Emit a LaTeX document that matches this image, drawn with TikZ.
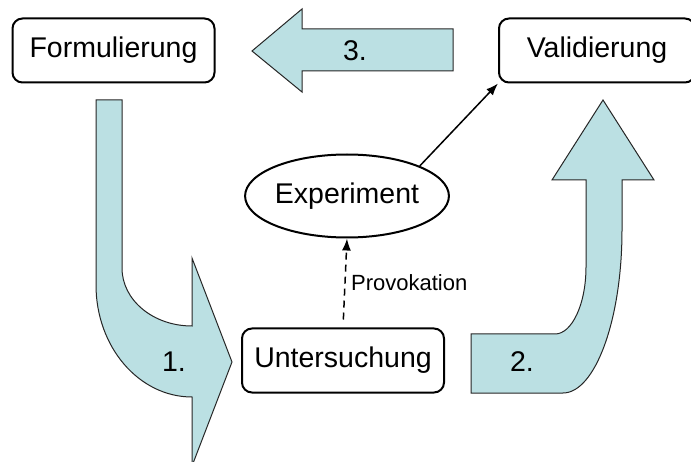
\documentclass[tikz,border=0pt]{standalone}
\usepackage{fontspec}
\setmainfont{Liberation Sans}
\usetikzlibrary{arrows.meta, shapes.geometric}

\definecolor{arrowblue}{RGB}{187,224,227}

\begin{document}
\begin{tikzpicture}[x = 1pt, y = -1pt, > = {Latex[length = 12pt, width = 9pt]},
	stage/.style = {draw, rounded corners = 10pt, line width = 2pt, minimum width = 202pt, minimum height = 64pt, inner sep = 0pt, font = \fontsize{28.5}{34}\selectfont},
	trial/.style = {draw, ellipse, line width = 2pt, minimum width = 193pt, minimum height = 83pt, inner sep = 0pt, font = \fontsize{28.5}{34}\selectfont},
	bigarrow/.style = {fill = arrowblue, draw = black!85, line width = 1pt},
	step label/.style = {font = \fontsize{28.5}{34}\selectfont}]

	\useasboundingbox (0, 0) rectangle (691, 462);

	% Block arrows

	\draw [bigarrow] (96, 100) -- (96, 285) .. controls (96, 347) and (139, 397) .. (192, 397)
		-- (192, 466) -- (232, 362) -- (192, 258) -- (192, 326)
		.. controls (153, 326) and (122, 300) .. (122, 268) -- (122, 100) -- cycle;

	\draw [bigarrow] (471, 334) -- (555, 334) .. controls (572, 334) and (586, 304) .. (586, 267)
		-- (586, 180) -- (552, 180) -- (603, 100) -- (654, 180) -- (622, 180) -- (622, 230)
		.. controls (622, 320) and (595, 393) .. (563, 393) -- (471, 393) -- cycle;

	\draw [bigarrow] (453, 29) -- (302, 29) -- (302, 9) -- (252, 51) -- (302, 92) -- (302, 71) -- (453, 71) -- cycle;

	\node [step label] (one) at (174, 362) {1.};
	\node [step label] (two) at (522, 362) {2.};
	\node [step label] (three) at (355, 51) {3.};

	% Stages

	\node [stage] (form) at (113.5, 50.5) {Formulierung};
	\node [stage, minimum width = 196pt] (valid) at (597, 50.5) {Validierung};
	\node [stage] (unter) at (343, 360.5) {Untersuchung};
	\node [trial] (exp) at (347, 196) {Experiment};

	% Links

	\draw [->, line width = 1.5pt] (exp.north east) -- (valid.south west);
	\draw [->, line width = 1.5pt, dash pattern = on 7pt off 5pt, shorten <= 8pt] (unter.north) -- (exp.south)
		node [pos = 0.5, right, xshift = 2pt, font = \fontsize{22}{26}\selectfont] (prov) {Provokation};

\end{tikzpicture}
\end{document}
